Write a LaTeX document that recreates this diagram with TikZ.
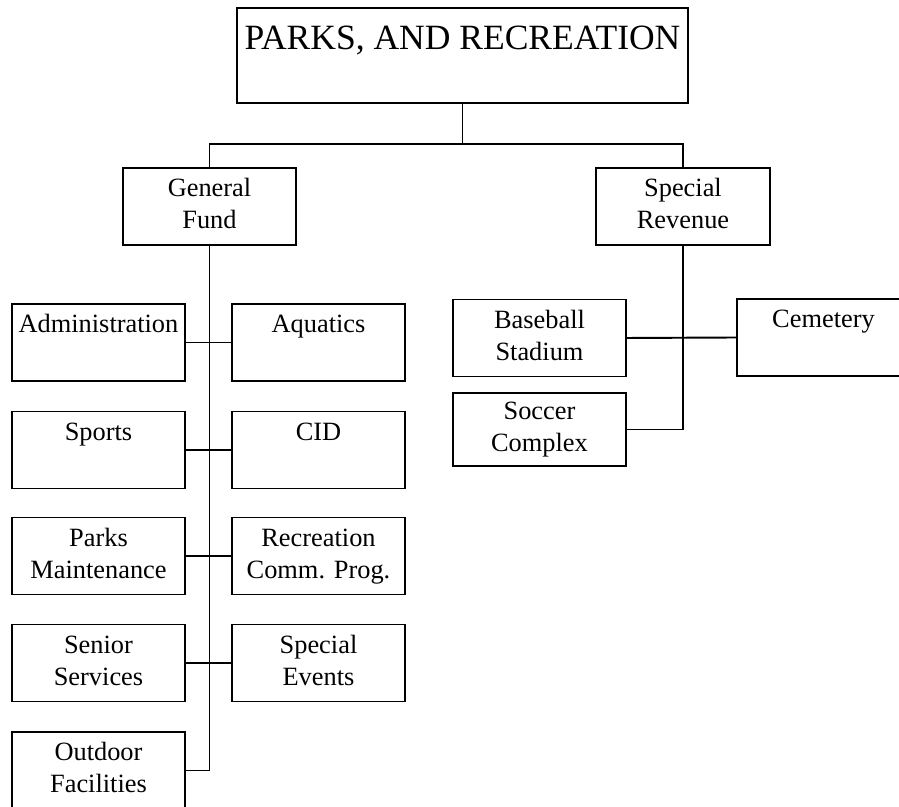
\documentclass[tikz,border=0pt]{standalone}
\usepackage{fontspec}
\setmainfont{Liberation Serif}
\usetikzlibrary{calc}

\newcommand{\unitlbl}[2]{\strut #1\\\strut #2}

\begin{document}
\begin{tikzpicture}[x=0.01cm, y=-0.01cm,
    unit/.style={draw, line width=0.55pt, align=center, inner sep=0pt,
      minimum width=1.73cm, minimum height=0.77cm,
      font=\fontsize{7.5}{9}\selectfont},
    chief/.style={draw, line width=0.55pt, align=center, inner sep=0pt,
      minimum width=4.51cm, minimum height=0.95cm,
      font=\fontsize{10.1}{12}\selectfont},
    link/.style={line width=0.55pt}]
  \useasboundingbox (0,0) rectangle (899,807);

  % Department
  \node[chief] (parks) at (462.5,55.5) {\strut PARKS, AND RECREATION\\[-4pt]\strut};

  % Funds
  \node[unit] (genfund) at (209.5,206.5) {\unitlbl{General}{Fund}};
  \node[unit] (specrev) at (683,206.5)  {\unitlbl{Special}{Revenue}};

  % General fund divisions
  \node[unit] (admin)    at (98.5,342.5)  {\unitlbl{Administration}{}};
  \node[unit] (aquatics) at (318.5,342.5) {\unitlbl{Aquatics}{}};
  \node[unit] (sports)   at (98.5,450)    {\unitlbl{Sports}{}};
  \node[unit] (cid)      at (318.5,450)   {\unitlbl{CID}{}};
  \node[unit] (maint)    at (98.5,556)    {\unitlbl{Parks}{Maintenance}};
  \node[unit] (recprog)  at (318.5,556)   {\unitlbl{Recreation}{Comm. Prog.}};
  \node[unit] (senior)   at (98.5,663)    {\unitlbl{Senior}{Services}};
  \node[unit] (events)   at (318.5,663)   {\unitlbl{Special}{Events}};
  \node[unit] (outdoor)  at (98.5,770.5)  {\unitlbl{Outdoor}{Facilities}};

  % Special revenue divisions
  \node[unit] (baseball) at (539.5,338)   {\unitlbl{Baseball}{Stadium}};
  \node[unit] (cemetery) at (823.5,337.5) {\unitlbl{Cemetery}{}};
  \node[unit, minimum height=0.73cm] (soccer) at (539.5,429.5) {\unitlbl{Soccer}{Complex}};

  % Trunk and bus
  \coordinate (bus) at (462.5,144);
  \draw[link] (parks.south) -- (bus);
  \draw[link] (genfund.north) |- (bus) -| (specrev.north);

  % Spines
  \draw[link] (genfund.south) |- (outdoor.east);
  \draw[link] (specrev.south) |- (soccer.east);

  % Row connectors
  \foreach \l/\r in {admin/aquatics, sports/cid, maint/recprog, senior/events, baseball/cemetery}
    \draw[link] (\l.east) -- (\r.west);
\end{tikzpicture}
\end{document}
